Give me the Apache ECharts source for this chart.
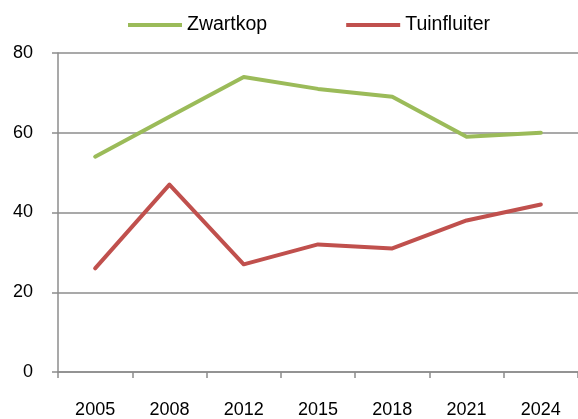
<!DOCTYPE html>
<html lang="nl">
<head>
    <meta charset="utf-8">
    <title>Zwartkop en Tuinfluiter</title>
    <script src="https://cdn.jsdelivr.net/npm/echarts@6/dist/echarts.min.js"></script>
    <style>
        html, body { margin: 0; padding: 0; background: #fff; }
        #chart { width: 578px; height: 419px; }
    </style>
</head>
<body>
    <div id="chart"></div>
    <script type="text/javascript">
        var jaren = ['2005', '2008', '2012', '2015', '2018', '2021', '2024'];
        var zwartkop = [54, 64, 74, 71, 69, 59, 60];
        var tuinfluiter = [26, 47, 27, 32, 31, 38, 42];

        var myChart = echarts.init(document.getElementById('chart'));
        var fontFamily = '"Liberation Sans", Arial, sans-serif';
        var option = {
            animation: false,
            legend: {
                top: 10,
                left: 123,
                itemWidth: 54,
                itemHeight: 4,
                itemGap: 79,
                icon: 'rect',
                textStyle: { fontSize: 19.5, color: '#000', fontFamily: fontFamily },
                data: ['Zwartkop', 'Tuinfluiter']
            },
            grid: {
                left: 58,
                right: -9,
                top: 53,
                bottom: 46
            },
            xAxis: {
                type: 'category',
                boundaryGap: true,
                data: jaren,
                axisLine: { lineStyle: { color: '#8c8c8c', width: 1.5 } },
                axisTick: { show: true, length: 6, lineStyle: { color: '#8c8c8c', width: 1.5 } },
                axisLabel: { color: '#000', fontSize: 18, fontFamily: fontFamily, margin: 29 }
            },
            yAxis: {
                type: 'value',
                min: 0,
                max: 80,
                interval: 20,
                axisLine: { show: true, lineStyle: { color: '#8c8c8c', width: 1.5 } },
                axisTick: { show: true, length: 6, lineStyle: { color: '#8c8c8c', width: 1.5 } },
                splitLine: { lineStyle: { color: '#8c8c8c', width: 1.5 } },
                axisLabel: { color: '#000', fontSize: 18, fontFamily: fontFamily, margin: 25 }
            },
            series: [
                {
                    name: 'Zwartkop',
                    type: 'line',
                    data: zwartkop,
                    symbol: 'none',
                    color: '#9bbb59',
                    lineStyle: { width: 4, color: '#9bbb59', cap: 'round', join: 'round' }
                },
                {
                    name: 'Tuinfluiter',
                    type: 'line',
                    data: tuinfluiter,
                    symbol: 'none',
                    color: '#c0504d',
                    lineStyle: { width: 4, color: '#c0504d', cap: 'round', join: 'round' }
                }
            ]
        };
        myChart.setOption(option);
    </script>
</body>
</html>
